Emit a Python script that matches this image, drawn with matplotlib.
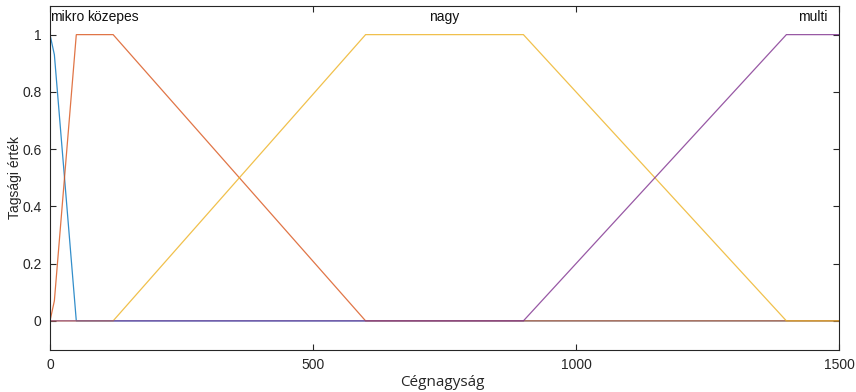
import matplotlib
matplotlib.use("Agg")
import matplotlib.pyplot as plt

# Breakpoints of each membership function (x, membership)
mikro_x = [0, 8.3, 50, 1500]
mikro_y = [1, 0.93, 0, 0]
kozepes_x = [0, 8.3, 50, 120, 600, 1500]
kozepes_y = [0, 0.07, 1, 1, 0, 0]
nagy_x = [0, 120, 600, 900, 1400, 1500]
nagy_y = [0, 0, 1, 1, 0, 0]
multi_x = [0, 900, 1400, 1500]
multi_y = [0, 0, 1, 1]

labels = ["mikro", "közepes", "nagy", "multi"]
label_x = [33, 119, 750, 1450]
label_y = [1.06, 1.06, 1.06, 1.06]

x_ticks = [0, 500, 1000, 1500]
y_ticks = [0, 0.2, 0.4, 0.6, 0.8, 1]
y_ticklabels = ["0", "0.2", "0.4", "0.6", "0.8", "1"]

colors = ["#0072BD", "#D95319", "#EDB120", "#7E2F8E"]

plt.rcParams['font.family'] = ['Liberation Sans', 'DejaVu Sans']

fig = plt.figure(figsize=(8.56, 3.92), dpi=100)
ax = fig.add_axes([50/856, 1-349.5/392, 789/856, 343.5/392])

series = [(mikro_x, mikro_y), (kozepes_x, kozepes_y), (nagy_x, nagy_y), (multi_x, multi_y)]
for (xs, ys), c in zip(series, colors):
    ax.plot(xs, ys, color=c, lw=0.9, alpha=0.8, solid_joinstyle='miter')

for t, tx, ty in zip(labels, label_x, label_y):
    ax.text(tx, ty, t, ha='center', va='center', fontsize=10, color='#111111')

ax.set_xlim(0, 1500)
ax.set_ylim(-0.1, 1.1)
ax.set_xticks(x_ticks)
ax.set_yticks(y_ticks)
ax.set_yticklabels(y_ticklabels)
ax.tick_params(direction='in', top=True, right=True, length=4, width=0.8,
               colors='#262626', labelsize=10, pad=6)
for sp in ax.spines.values():
    sp.set_color('#262626')
    sp.set_linewidth(0.8)

ax.set_xlabel("Cégnagyság", fontsize=11, family=['Open Sans', 'DejaVu Sans'],
              color='#262626', va='center')
ax.xaxis.set_label_coords(392/789, (349.5-382)/343.5)
ax.set_ylabel("Tagsági érték", fontsize=10, color='#262626', va='center')
ax.yaxis.set_label_coords((15-50)/789, 0.5)

fig.savefig("out.png", dpi=100)
